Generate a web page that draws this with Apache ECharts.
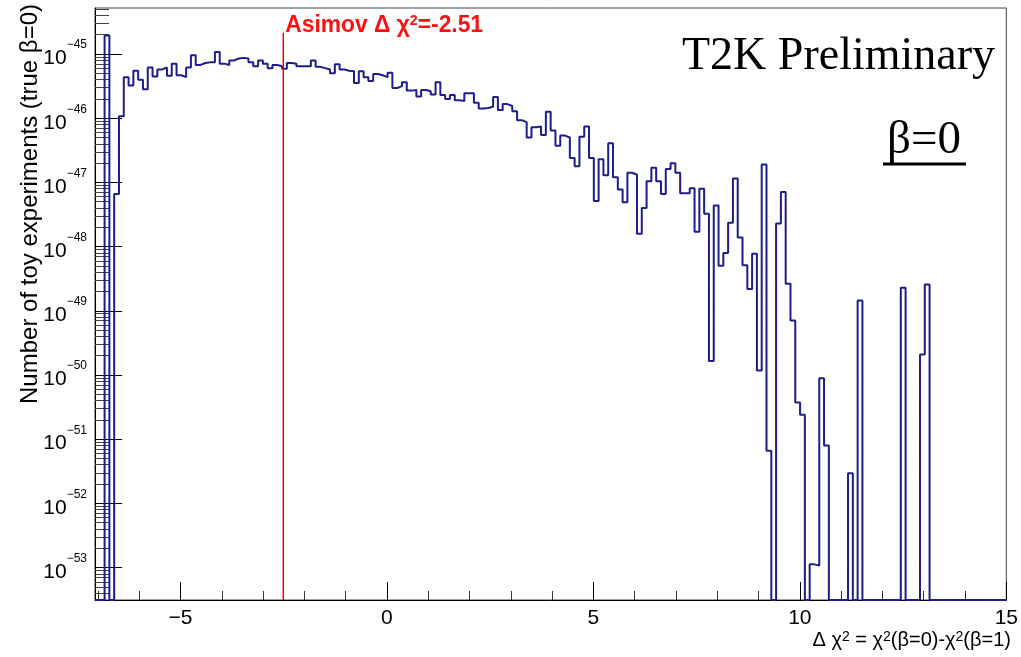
<!DOCTYPE html>
<html>
<head>
<meta charset="utf-8">
<script src="https://cdn.jsdelivr.net/npm/echarts@6/dist/echarts.min.js"></script>
<style>
html,body{margin:0;padding:0;background:#ffffff;}
#chart{width:1021px;height:657px;}
</style>
</head>
<body>
<div id="chart"></div>
<script>
// ---------------- data ----------------
const X_MIN = -7.07;
const X_MAX = 15;
const BIN_COUNT = 190;
const Y_MIN_EXP = -53.505;   // log10 of bottom of the frame
const Y_MAX_EXP = -44.283;   // log10 of top of the frame
const xMajorTicks = [-5, 0, 5, 10, 15];
const xMinorTicks = [-7, -6, -4, -3, -2, -1, 1, 2, 3, 4, 6, 7, 8, 9, 11, 12, 13, 14];
const yDecades = [-53, -52, -51, -50, -49, -48, -47, -46, -45];
const asimovValue = -2.51;
const asimovLineTopExp = -44.67;
// log10(number of toy experiments) per bin, null = empty bin
const log10Counts = [
  null, null, -44.71, null, -47.18, -45.97, -45.36, -45.49, -45.26, -45.40,
  -45.55, -45.21, -45.35, -45.24, -45.21, -45.34, -45.15, -45.33, -45.36, -45.21,
  -45.02, -45.17, -45.14, -45.13, -45.13, -44.97, -45.15, -45.17, -45.10, -45.07,
  -45.06, -45.07, -45.13, -45.19, -45.10, -45.15, -45.22, -45.17, -45.19, -45.23,
  -45.14, -45.15, -45.19, -45.19, -45.19, -45.10, -45.20, -45.22, -45.24, -45.30,
  -45.16, -45.24, -45.26, -45.27, -45.45, -45.27, -45.36, -45.42, -45.31, -45.33,
  -45.36, -45.29, -45.53, -45.50, -45.44, -45.57, -45.56, -45.66, -45.56, -45.58,
  -45.63, -45.44, -45.64, -45.70, -45.64, -45.72, -45.73, -45.61, -45.61, -45.76,
  -45.85, -45.84, -45.82, -45.67, -45.87, -45.78, -45.81, -45.89, -46.03, -46.06,
  -46.30, -46.14, -46.13, -46.26, -45.90, -46.19, -46.43, -46.27, -46.30, -46.62,
  -46.75, -46.29, -46.13, -46.62, -47.29, -46.64, -46.89, -46.39, -46.92, -47.11,
  -47.31, -46.85, -46.88, -47.80, -47.40, -46.98, -46.77, -46.98, -47.18, -46.79,
  -46.70, -46.85, -47.17, -47.17, -47.09, -47.77, -47.10, -47.49, -49.78, -47.36,
  -48.30, -48.10, -47.63, -46.94, -47.86, -48.29, -48.66, -48.11, -49.93, -46.72,
  -51.18, null, -47.64, -47.15, -48.58, -49.15, -50.43, -50.62, null, -52.95,
  -52.97, -50.05, -51.10, null, null, null, null, -51.53, null, -48.84,
  null, null, null, null, null, null, null, null, -48.64, null,
  null, null, -49.68, -48.59, null, null, null, null, null, null,
  null, null, null, null, null, null, null, null, null, null
];
const yTitle = 'Number of toy experiments (true \u03b2=0)';
const experimentLabel = 'T2K Preliminary';
const hypothesisLabel = '\u03b2=0';

// ---------------- build ----------------
const binWidth = (X_MAX - X_MIN) / BIN_COUNT;
const histPoints = [];
log10Counts.forEach((v, i) => {
  const lo = X_MIN + i * binWidth;
  const hi = lo + binWidth;
  const y = (v === null) ? Y_MIN_EXP : v;
  histPoints.push([lo, y], [hi, y]);
});
const yMinor = [];
for (let n = -54; n <= -45; n++) {
  for (let k = 2; k <= 9; k++) {
    const v = n + Math.log10(k);
    if (v > Y_MIN_EXP && v < Y_MAX_EXP) yMinor.push(v);
  }
}
const MINUS = '\u2212';
const FONT = '"Liberation Sans", Arial, Helvetica, sans-serif';
const SERIF = '"Liberation Serif", "Times New Roman", serif';

const chart = echarts.init(document.getElementById('chart'), null, {renderer: 'canvas'});
const option = {
  animation: false,
  backgroundColor: '#ffffff',
  grid: {left: 95, right: 10, top: 8, bottom: 57, show: true, borderColor: '#444', borderWidth: 1, backgroundColor: 'transparent'},
  xAxis: [
    {
      type: 'value', min: X_MIN, max: X_MAX, position: 'bottom',
      axisLine: {show: true, onZero: false, lineStyle: {color: '#000', width: 1}},
      axisTick: {show: true, inside: true, length: 18, customValues: xMajorTicks, lineStyle: {color: '#000', width: 1}},
      axisLabel: {show: true, customValues: xMajorTicks, margin: 8, color: '#000',
        fontFamily: FONT, fontSize: 21,
        formatter: v => (v < 0 ? MINUS + Math.abs(v) : String(v))},
      splitLine: {show: false}
    },
    {
      type: 'value', min: X_MIN, max: X_MAX, position: 'bottom',
      axisLine: {show: false, onZero: false},
      axisTick: {show: true, inside: true, length: 9, customValues: xMinorTicks, lineStyle: {color: '#333', width: 1}},
      axisLabel: {show: false},
      splitLine: {show: false}
    }
  ],
  yAxis: [
    {
      type: 'value', min: Y_MIN_EXP, max: Y_MAX_EXP, position: 'left',
      axisLine: {show: true, onZero: false, lineStyle: {color: '#000', width: 1}},
      axisTick: {show: true, inside: true, length: 27, customValues: yDecades, lineStyle: {color: '#000', width: 1}},
      axisLabel: {show: true, customValues: yDecades, margin: 8, color: '#000',
        formatter: v => '{b|10}{s|' + MINUS + Math.abs(Math.round(v)) + '}',
        rich: {
          b: {fontFamily: FONT, fontSize: 21, lineHeight: 30, verticalAlign: 'bottom', color: '#000'},
          s: {fontFamily: FONT, fontSize: 12, lineHeight: 15, verticalAlign: 'top', color: '#000'}
        }},
      splitLine: {show: false}
    },
    {
      type: 'value', min: Y_MIN_EXP, max: Y_MAX_EXP, position: 'left',
      axisLine: {show: false, onZero: false},
      axisTick: {show: true, inside: true, length: 14, customValues: yMinor, lineStyle: {color: '#444', width: 1}},
      axisLabel: {show: false},
      splitLine: {show: false}
    }
  ],
  series: [
    {
      type: 'line', xAxisIndex: 0, yAxisIndex: 0,
      data: histPoints, symbol: 'none', clip: true,
      lineStyle: {color: '#1d1d8c', width: 2}, z: 3
    },
    {
      type: 'line', xAxisIndex: 0, yAxisIndex: 0,
      data: [[asimovValue, Y_MIN_EXP], [asimovValue, asimovLineTopExp]],
      symbol: 'none', lineStyle: {color: '#ff0000', width: 1.5}, z: 4
    }
  ]
};
chart.setOption(option);

const topPt = chart.convertToPixel({xAxisIndex: 0, yAxisIndex: 0}, [asimovValue, asimovLineTopExp]);
chart.setOption({
  graphic: [
    {
      type: 'text', x: topPt[0] + 2, y: topPt[1] - 7, scaleX: 0.95,
      style: {
        text: 'Asimov \u0394 \u03c7{s|2}=-2.51',
        fill: '#ff1010', font: 'bold 24px ' + FONT, textAlign: 'left', textVerticalAlign: 'middle',
        rich: {s: {fill: '#ff1010', font: 'bold 15px ' + FONT, verticalAlign: 'top', lineHeight: 14}}
      }
    },
    {
      type: 'text', x: 995, y: 57,
      style: {text: experimentLabel, fill: '#000', font: '46px ' + SERIF, textAlign: 'right', textVerticalAlign: 'middle'}
    },
    {
      type: 'text', x: 924, y: 141,
      style: {text: hypothesisLabel, fill: '#000', font: '47px ' + SERIF, textAlign: 'center', textVerticalAlign: 'middle'}
    },
    {
      type: 'line', shape: {x1: 883, y1: 164, x2: 966, y2: 164},
      style: {stroke: '#000', lineWidth: 3}
    },
    {
      type: 'text', x: 30, y: 4, rotation: Math.PI / 2,
      style: {text: yTitle, fill: '#000', font: '24px ' + FONT, textAlign: 'right', textVerticalAlign: 'middle'}
    },
    {
      type: 'text', x: 1011, y: 640,
      style: {
        text: '\u0394 \u03c7{s|2} = \u03c7{s|2}(\u03b2=0)-\u03c7{s|2}(\u03b2=1)',
        fill: '#000', font: '20px ' + FONT, textAlign: 'right', textVerticalAlign: 'middle',
        rich: {s: {fill: '#000', font: '14px ' + FONT, verticalAlign: 'top', lineHeight: 12}}
      }
    }
  ]
});
</script>
</body>
</html>
